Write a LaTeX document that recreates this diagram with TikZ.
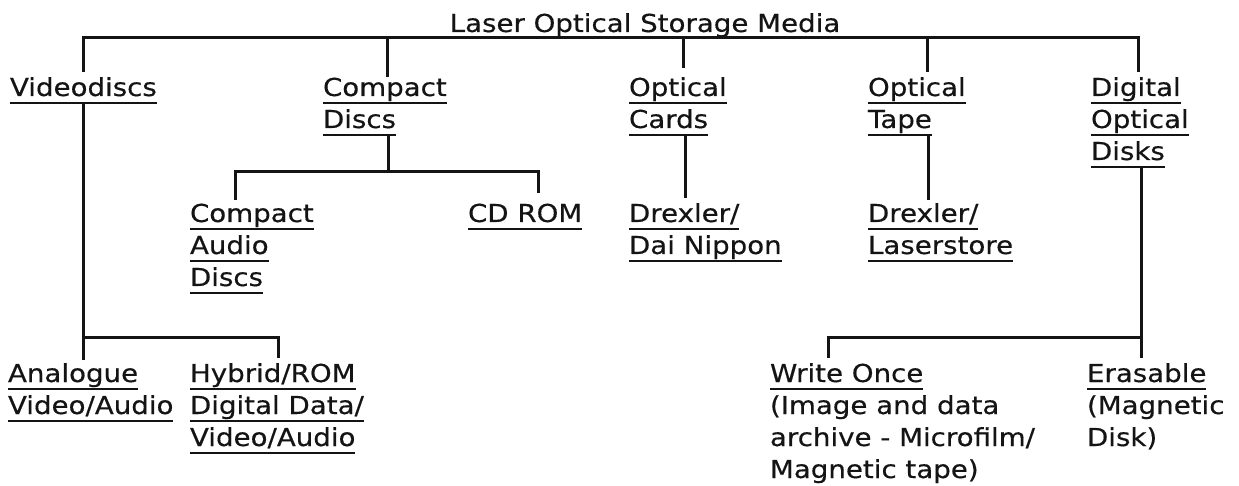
\documentclass[tikz,border=0pt]{standalone}
\usepackage{fontspec}
\setmainfont[FakeStretch=1.12,FakeBold=0.4]{DejaVu Sans}
\newcommand\ulx[1]{\setbox0=\hbox{#1}\rlap{\rule[-7.6pt]{\wd0}{2pt}}\box0}
\newcommand\lns[1]{\vtop{\baselineskip=32pt\lineskiplimit=-60pt\lineskip=0pt #1}}
\tikzset{
  item/.style={anchor=base west, inner sep=0pt, outer sep=0pt, text=black!92,
    font=\fontsize{24.7}{32}\selectfont},
  conn/.style={draw=black!92, line width=3pt, line cap=butt, line join=miter}
}
\begin{document}
\begin{tikzpicture}[x=1pt,y=-1pt]
\useasboundingbox[fill=white] (0,0) rectangle (1239,486);
% nodes
\node[item, anchor=base] (title) at (645,32) {Laser Optical Storage Media};
\node[item] (vid) at (10,96) {\lns{\hbox{\ulx{Videodiscs}}}};
\node[item] (cd) at (323,96) {\lns{\hbox{\ulx{Compact}}\hbox{\ulx{Discs}}}};
\node[item] (oc) at (629,96) {\lns{\hbox{\ulx{Optical}}\hbox{\ulx{Cards}}}};
\node[item] (ot) at (868,96) {\lns{\hbox{\ulx{Optical}}\hbox{\ulx{Tape}}}};
\node[item] (dod) at (1091,96) {\lns{\hbox{\ulx{Digital}}\hbox{\ulx{Optical}}\hbox{\ulx{Disks}}}};
\node[item] (cad) at (190,222) {\lns{\hbox{\ulx{Compact}}\hbox{\ulx{Audio}}\hbox{\ulx{Discs}}}};
\node[item] (rom) at (468,222) {\lns{\hbox{\ulx{CD ROM}}}};
\node[item] (dn) at (629,222) {\lns{\hbox{\ulx{Drexler/}}\hbox{\ulx{Dai Nippon}}}};
\node[item] (ls) at (868,222) {\lns{\hbox{\ulx{Drexler/}}\hbox{\ulx{Laserstore}}}};
\node[item] (ana) at (8,382) {\lns{\hbox{\ulx{Analogue}}\hbox{\ulx{Video/Audio}}}};
\node[item] (hyb) at (190,382) {\lns{\hbox{\ulx{Hybrid/ROM}}\hbox{\ulx{Digital Data/}}\hbox{\ulx{Video/Audio}}}};
\node[item] (wo) at (770,382) {\lns{\hbox{\ulx{Write Once}}\hbox{(Image and data}\hbox{archive - Microfilm/}\hbox{Magnetic tape)}}};
\node[item] (er) at (1087,382) {\lns{\hbox{\ulx{Erasable}}\hbox{(Magnetic}\hbox{Disk)}}};
% connection points
\coordinate (busL) at (83,38);
\coordinate (busR) at (1138,38);
\coordinate (vidIn) at (83,72);
\coordinate (cdBus) at (387,38);
\coordinate (cdIn) at (387,77);
\coordinate (ocBus) at (683,38);
\coordinate (ocIn) at (683,68);
\coordinate (otBus) at (927,38);
\coordinate (otIn) at (927,72);
\coordinate (dodIn) at (1138,72);
\coordinate (cdOut) at (388,135);
\coordinate (cdJ) at (388,172);
\coordinate (cadJ) at (235,172);
\coordinate (cadIn) at (235,200);
\coordinate (romJ) at (538,172);
\coordinate (romIn) at (538,193);
\coordinate (ocOut) at (685,134);
\coordinate (dnIn) at (685,198);
\coordinate (otOut) at (928,135);
\coordinate (lsIn) at (928,200);
\coordinate (vidOut) at (83,103);
\coordinate (vidJ) at (83,337);
\coordinate (anaIn) at (83,360);
\coordinate (hybJ) at (278,337);
\coordinate (hybIn) at (278,358);
\coordinate (dodOut) at (1141,166);
\coordinate (dodJ) at (1141,337);
\coordinate (erIn) at (1141,358);
\coordinate (woJ) at (828,337);
\coordinate (woIn) at (828,358);
% connectors
\draw[conn] (vidIn) -- (busL) -- (busR) -- (dodIn);
\draw[conn] (cdBus) -- (cdIn);
\draw[conn] (ocBus) -- (ocIn);
\draw[conn] (otBus) -- (otIn);
\draw[conn] (cdOut) -- (cdJ);
\draw[conn] (cadIn) -- (cadJ) -- (romJ) -- (romIn);
\draw[conn] (ocOut) -- (dnIn);
\draw[conn] (otOut) -- (lsIn);
\draw[conn] (vidOut) -- (anaIn);
\draw[conn] (vidJ) -- (hybJ) -- (hybIn);
\draw[conn] (dodOut) -- (erIn);
\draw[conn] (woIn) -- (woJ) -- (dodJ);
\end{tikzpicture}
\end{document}
